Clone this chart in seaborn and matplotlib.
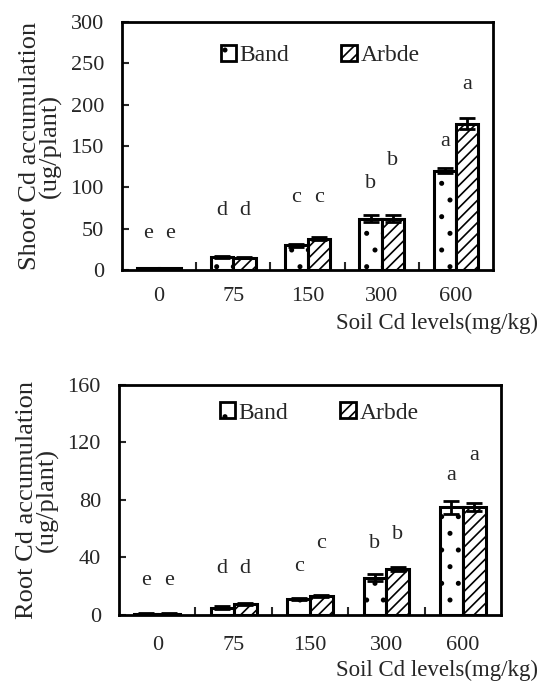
import matplotlib
matplotlib.use("Agg")
import matplotlib.pyplot as plt
import seaborn as sns
import pandas as pd
import numpy as np

levels = ["0", "75", "150", "300", "600"]
cultivars = ["Band", "Arbde"]

shoot_band = [2, 16, 30, 62, 120]
shoot_arbde = [2, 15, 38, 62, 177]
shoot_band_err = [0.5, 1, 2, 4, 3]
shoot_arbde_err = [0.5, 1, 2, 4, 7]
shoot_band_letters = ["e", "d", "c", "b", "a"]
shoot_arbde_letters = ["e", "d", "c", "b", "a"]
shoot_band_letter_y = [44, 72, 88, 104, 155]
shoot_arbde_letter_y = [44, 72, 88, 132, 224]

root_band = [1, 5, 11, 26, 75]
root_arbde = [1, 7.5, 13, 32, 75]
root_band_err = [0.3, 1, 0.8, 2.5, 4.5]
root_arbde_err = [0.3, 0.8, 0.8, 1.2, 3]
root_band_letters = ["e", "d", "c", "b", "a"]
root_arbde_letters = ["e", "d", "c", "b", "a"]
root_band_letter_y = [24, 32, 34, 50, 97]
root_arbde_letter_y = [24, 32, 50, 56, 111]

sns.set_style("white")
plt.rcParams["font.family"] = ["Liberation Serif", "DejaVu Serif"]
plt.rcParams["hatch.linewidth"] = 1.2

fig = plt.figure(figsize=(5.42, 6.84), dpi=100)

def panel(rect, band, arbde, berr, aerr, bl, al, bly, aly, ymax, yticks, ylabel,
          xpad, xlab_pos, leg_pos):
    ax = fig.add_axes(rect)
    df = pd.DataFrame({
        "level": levels * 2,
        "cultivar": [cultivars[0]] * 5 + [cultivars[1]] * 5,
        "value": band + arbde,
    })
    sns.barplot(data=df, x="level", y="value", hue="cultivar", order=levels,
                hue_order=cultivars, palette=["white", "white"], edgecolor="black",
                linewidth=2.2, width=0.6, gap=0, errorbar=None, ax=ax)
    hatches = [".", "///"]
    bar_conts = list(ax.containers)
    for ci, cont in enumerate(bar_conts[:2]):
        vals = [band, arbde][ci]
        errs = [berr, aerr][ci]
        labs = [bl, al][ci]
        ly = [bly, aly][ci]
        xs = []
        for p in cont.patches:
            p.set_hatch(hatches[ci])
            xs.append(p.get_x() + p.get_width() / 2)
        ax.errorbar(xs, vals, yerr=errs, fmt="none", ecolor="black",
                    elinewidth=2, capsize=6, capthick=2, zorder=5)
        for x, t, y in zip(xs, labs, ly):
            ax.text(x, y, t, ha="center", va="center", fontsize=16)
    ax.set_ylim(0, ymax)
    ax.set_xlim(-0.5, 4.5)
    ax.set_yticks(yticks)
    ax.set_xlabel("")
    ax.set_ylabel(ylabel, fontsize=19, labelpad=6, linespacing=0.9)
    ax.tick_params(axis="y", direction="in", length=5, width=1.5, pad=13, labelsize=16, left=True)
    ax.tick_params(axis="x", which="major", length=0, pad=xpad, labelsize=16)
    ax.set_xticks(np.arange(0.5, 4.5, 1), minor=True)
    ax.tick_params(axis="x", which="minor", direction="in", length=6, width=1.5, bottom=True)
    for s in ax.spines.values():
        s.set_linewidth(2)
        s.set_color("black")
    ax.text(xlab_pos[0], xlab_pos[1], "Soil Cd levels(mg/kg)", transform=ax.transAxes,
            ha="right", va="center", fontsize=16.5)
    leg = ax.legend(loc="center", bbox_to_anchor=leg_pos, ncol=2,
                    frameon=False, fontsize=17, handlelength=0.65, handleheight=0.65,
                    handletextpad=0.15, columnspacing=2.2, borderpad=0)
    for h, hh in zip(leg.legend_handles, hatches):
        h.set_linewidth(2)
        h.set_hatch(hh)
    return ax

panel([0.2251, 0.6053, 0.6845, 0.3626], shoot_band, shoot_arbde, shoot_band_err, shoot_arbde_err,
      shoot_band_letters, shoot_arbde_letters, shoot_band_letter_y, shoot_arbde_letter_y,
      300, [0, 50, 100, 150, 200, 250, 300], "Shoot Cd accumulation\n(ug/plant)",
      12, (1.121, -0.217), (0.534, 0.865))
panel([0.2196, 0.1009, 0.7048, 0.3363], root_band, root_arbde, root_band_err, root_arbde_err,
      root_band_letters, root_arbde_letters, root_band_letter_y, root_arbde_letter_y,
      160, [0, 40, 80, 120, 160], "Root Cd accumulation\n(ug/plant)",
      15, (1.097, -0.24), (0.524, 0.878))

fig.savefig("out.png", dpi=100, facecolor="white")
